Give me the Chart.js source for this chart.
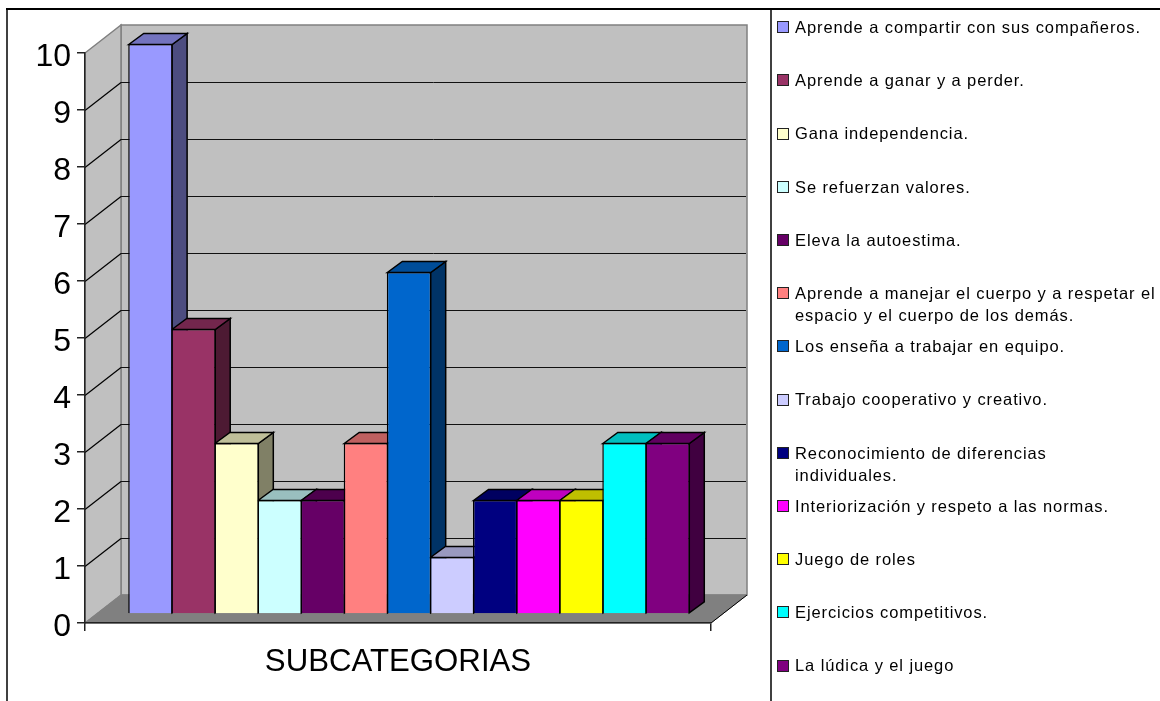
<!DOCTYPE html>
<html>
<head>
<meta charset="utf-8">
<title>SUBCATEGORIAS</title>
<script src="https://cdn.jsdelivr.net/npm/chart.js@4"></script>
<style>
  html, body { margin: 0; padding: 0; background: #fff; }
  #wrap { position: relative; width: 1160px; height: 701px; overflow: hidden; }
</style>
</head>
<body>
<div id="wrap"><canvas id="chart" width="1160" height="701"></canvas></div>
<script>
// datos del grafico
const categories = ['SUBCATEGORIAS'];
const seriesNames = [
  'Aprende a compartir con sus compañeros.',
  'Aprende a ganar y a perder.',
  'Gana independencia.',
  'Se refuerzan valores.',
  'Eleva la autoestima.',
  'Aprende a manejar el cuerpo y a respetar el\nespacio y el cuerpo de los demás.',
  'Los enseña a trabajar en equipo.',
  'Trabajo cooperativo y creativo.',
  'Reconocimiento de diferencias\nindividuales.',
  'Interiorización y respeto a las normas.',
  'Juego de roles',
  'Ejercicios competitivos.',
  'La lúdica y el juego'
];
const seriesValues = [10, 5, 3, 2, 2, 3, 6, 1, 2, 2, 2, 3, 3];
const seriesColors = ['#9999FF', '#993366', '#FFFFCC', '#CCFFFF', '#660066', '#FF8080', '#0066CC',
                      '#CCCCFF', '#000080', '#FF00FF', '#FFFF00', '#00FFFF', '#800080'];
const yMin = 0, yMax = 10, yStep = 1;

const FONT = '"Liberation Sans", Arial, sans-serif';
const WALL_DX = 36, WALL_DY = -28;   // fondo de la caja 3D
const BAR_DX = 11, BAR_DY = -9;      // barras dentro de la caja
const DEPTH_X = 15, DEPTH_Y = -11;   // profundidad de cada barra

function shade(hex, k) {
  const n = parseInt(hex.slice(1), 16);
  const c = [n >> 16, (n >> 8) & 255, n & 255].map(v => Math.round(v * k));
  return `rgb(${c[0]},${c[1]},${c[2]})`;
}

function poly(ctx, pts, fill, stroke, lw) {
  ctx.beginPath();
  pts.forEach((p, i) => i ? ctx.lineTo(p[0], p[1]) : ctx.moveTo(p[0], p[1]));
  ctx.closePath();
  if (fill) { ctx.fillStyle = fill; ctx.fill(); }
  if (stroke) { ctx.strokeStyle = stroke; ctx.lineWidth = lw || 1; ctx.stroke(); }
}

function line(ctx, x1, y1, x2, y2, color, lw) {
  ctx.beginPath();
  ctx.moveTo(x1, y1);
  ctx.lineTo(x2, y2);
  ctx.strokeStyle = color;
  ctx.lineWidth = lw;
  ctx.stroke();
}

// paredes, piso y marcos
const boxPlugin = {
  id: 'box3d',
  beforeDraw(chart) {
    const { ctx, chartArea: a, scales } = chart;
    const y = scales.y;
    const top = y.getPixelForValue(yMax), bot = y.getPixelForValue(yMin);
    ctx.save();
    poly(ctx, [[a.left + WALL_DX, top + WALL_DY], [a.right + WALL_DX, top + WALL_DY],
               [a.right + WALL_DX, bot + WALL_DY], [a.left + WALL_DX, bot + WALL_DY]], '#C0C0C0', '#808080', 1.5);
    poly(ctx, [[a.left, top], [a.left + WALL_DX, top + WALL_DY],
               [a.left + WALL_DX, bot + WALL_DY], [a.left, bot]], '#C0C0C0', '#808080', 1.5);
    poly(ctx, [[a.left, bot], [a.left + WALL_DX, bot + WALL_DY],
               [a.right + WALL_DX, bot + WALL_DY], [a.right, bot]], '#808080', '#808080', 1);
    line(ctx, a.right, bot, a.right + WALL_DX, bot + WALL_DY, '#000', 1);
    y.ticks.forEach(t => {
      if (t.value === yMin || t.value === yMax) return;
      const py = Math.round(y.getPixelForValue(t.value)) + 0.5;
      line(ctx, a.left, py, a.left + WALL_DX, py + WALL_DY, '#000', 1.2);
      line(ctx, a.left + WALL_DX, py + WALL_DY, a.right + WALL_DX - 1, py + WALL_DY, '#111', 1);
    });
    // marcos del grafico y de la leyenda
    line(ctx, 6, 9, 1160, 9, '#000', 2);
    line(ctx, 7, 9, 7, 701, '#000', 1.5);
    line(ctx, 771, 9, 771, 701, '#000', 1.5);
    ctx.restore();
  },
  beforeDatasetsDraw(chart) {
    const { ctx } = chart;
    ctx.save();
    ctx.translate(BAR_DX, BAR_DY);
    // caras laterales y superiores, de izquierda a derecha
    chart.data.datasets.forEach((ds, i) => {
      const b = chart.getDatasetMeta(i).data[0];
      const l = b.x - b.width / 2 + 0.5, r = b.x + b.width / 2 - 0.5, t = b.y + 0.5, base = b.base - 0.5;
      poly(ctx, [[r, t], [r + DEPTH_X, t + DEPTH_Y], [r + DEPTH_X, base + DEPTH_Y], [r, base]],
           shade(ds.backgroundColor, 0.5), '#000', 1.5);
      poly(ctx, [[l, t], [l + DEPTH_X, t + DEPTH_Y], [r + DEPTH_X, t + DEPTH_Y], [r, t]],
           shade(ds.backgroundColor, 0.75), '#000', 1.5);
    });
  },
  afterDatasetsDraw(chart) {
    chart.ctx.restore();
  }
};

// etiquetas del eje Y un poco por debajo de la marca, como en el original
const yLabelPlugin = {
  id: 'yLabels',
  afterDraw(chart) {
    const { ctx, scales } = chart;
    ctx.save();
    ctx.font = '32px ' + FONT;
    ctx.textAlign = 'right';
    ctx.textBaseline = 'alphabetic';
    ctx.fillStyle = '#000';
    scales.y.ticks.forEach(t => {
      ctx.fillText(t.label, 71, scales.y.getPixelForValue(t.value) + 13);
    });
    ctx.restore();
  }
};

// leyenda: una fila por serie, con el texto partido donde lo indica la etiqueta
const legendPlugin = {
  id: 'sideLegend',
  afterDraw(chart) {
    const { ctx } = chart;
    ctx.save();
    ctx.font = '16.5px ' + FONT;
    ctx.letterSpacing = '0.9px';
    ctx.textBaseline = 'alphabetic';
    seriesNames.forEach((name, i) => {
      const cy = 26.7 + 53.2 * i;
      const by = Math.round(cy - 5.5) + 0.5;
      ctx.fillStyle = seriesColors[i];
      ctx.fillRect(777.5, by, 11, 11);
      ctx.strokeStyle = '#222';
      ctx.lineWidth = 1;
      ctx.strokeRect(777.5, by, 11, 11);
      ctx.fillStyle = '#000';
      name.split('\n').forEach((txt, j) => {
        ctx.fillText(txt, 795, cy + 6.3 + j * 22);
      });
    });
    ctx.restore();
  }
};

new Chart(document.getElementById('chart').getContext('2d'), {
  type: 'bar',
  data: {
    labels: categories,
    datasets: seriesNames.map((name, i) => ({
      label: name.replace('\n', ' '),
      data: [seriesValues[i]],
      backgroundColor: seriesColors[i],
      borderColor: '#000',
      borderWidth: 1.5,
      clip: false
    }))
  },
  options: {
    responsive: false,
    animation: false,
    categoryPercentage: 0.895,
    barPercentage: 1.03,
    layout: { padding: { top: 53, right: 449, bottom: 0, left: 0 } },
    plugins: {
      legend: { display: false },
      title: { display: false },
      tooltip: { enabled: false }
    },
    scales: {
      x: {
        grid: { drawOnChartArea: false, drawTicks: true, tickLength: 8, color: '#222', lineWidth: 1.5 },
        border: { display: true, color: '#222', width: 1.5 },
        ticks: { color: '#000', font: { family: FONT, size: 31.2 }, padding: 13, maxRotation: 0 },
        afterFit(scale) { scale.height = 78; }
      },
      y: {
        min: yMin,
        max: yMax,
        grid: { drawOnChartArea: false, drawTicks: true, tickLength: 8, color: '#222', lineWidth: 1.5 },
        border: { display: true, color: '#222', width: 1.5 },
        ticks: { stepSize: yStep, display: false },
        afterFit(scale) { scale.width = 85; }
      }
    }
  },
  plugins: [boxPlugin, yLabelPlugin, legendPlugin]
});
</script>
</body>
</html>
